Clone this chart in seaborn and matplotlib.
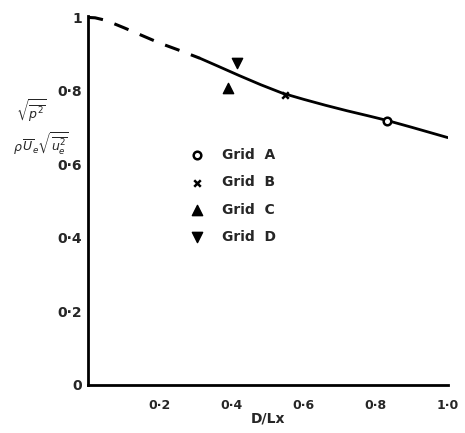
import matplotlib
matplotlib.use("Agg")
import matplotlib.pyplot as plt
import seaborn as sns
import pandas as pd

# curve
dashed_x = [0.0, 0.02, 0.05, 0.10, 0.15, 0.20, 0.25, 0.311]
dashed_y = [1.0, 0.999, 0.992, 0.972, 0.951, 0.930, 0.912, 0.889]
solid_x = [0.311, 0.36, 0.42, 0.48, 0.54, 0.60, 0.66, 0.72, 0.78, 0.83, 0.90, 0.95, 1.0]
solid_y = [0.889, 0.868, 0.842, 0.817, 0.794, 0.777, 0.761, 0.746, 0.732, 0.720, 0.701, 0.687, 0.673]

# measured points
grids = ["Grid  A", "Grid  B", "Grid  C", "Grid  D"]
grid_x = [0.83, 0.547, 0.39, 0.414]
grid_y = [0.717, 0.79, 0.807, 0.875]
grid_markers = ["o", "x", "^", "v"]

x_ticks = [0.2, 0.4, 0.6, 0.8, 1.0]
x_ticklabels = ["0·2", "0·4", "0·6", "0·8", "1·0"]
y_ticks = [0.0, 0.2, 0.4, 0.6, 0.8, 1.0]
y_ticklabels = ["0", "0·2", "0·4", "0·6", "0·8", "1"]

sns.set_style("white")
plt.rcParams["font.family"] = ["DejaVu Sans"]

fig = plt.figure(figsize=(4.65, 4.33), dpi=100)
ax = fig.add_axes([0.189, 0.111, 0.774, 0.853])

sns.lineplot(x=dashed_x, y=dashed_y, ax=ax, color="black", lw=2.2,
             linestyle=(0, (5, 4)))
sns.lineplot(x=solid_x, y=solid_y, ax=ax, color="black", lw=2.0)

df = pd.DataFrame({"x": grid_x, "y": grid_y, "grid": grids})
for g, m in zip(grids, grid_markers):
    sub = df[df["grid"] == g]
    if m == "o":
        ax.scatter(sub["x"], sub["y"], marker=m, s=30, facecolors="white",
                   edgecolors="black", linewidths=1.8, label=g, zorder=3)
    elif m == "x":
        ax.scatter(sub["x"], sub["y"], marker=m, s=22, color="black",
                   linewidths=1.8, label=g, zorder=3)
    else:
        ax.scatter(sub["x"], sub["y"], marker=m, s=55, color="black",
                   label=g, zorder=3)

ax.set_xlim(0, 1.0)
ax.set_ylim(0, 1.005)
ax.set_xticks(x_ticks)
ax.set_xticklabels(x_ticklabels, fontsize=9, fontweight="bold")
ax.set_yticks(y_ticks)
ax.set_yticklabels(y_ticklabels, fontsize=10, fontweight="bold")
ax.tick_params(direction="in", length=7, width=1.5, pad=4)
ax.tick_params(axis="x", pad=10)
sns.despine(ax=ax)
for s in ["left", "bottom"]:
    ax.spines[s].set_linewidth(2)
    ax.spines[s].set_color("black")

ax.set_xlabel("D/Lx", fontsize=10, fontweight="bold", labelpad=0)

# y label as a stacked fraction, left of the axis
fig.text(0.035, 0.745, r"$\sqrt{\overline{p^2}}$", fontsize=9, ha="left", va="center")
fig.text(0.028, 0.67, r"$\rho\,\overline{U}_e\sqrt{\overline{u_e^2}}$", fontsize=9,
         ha="left", va="center")

ax.legend(loc="upper left", bbox_to_anchor=(0.23, 0.675), frameon=False,
          handletextpad=0.8, labelspacing=0.95,
          prop={"weight": "bold", "size": 10})

fig.savefig("out.png", dpi=100)
